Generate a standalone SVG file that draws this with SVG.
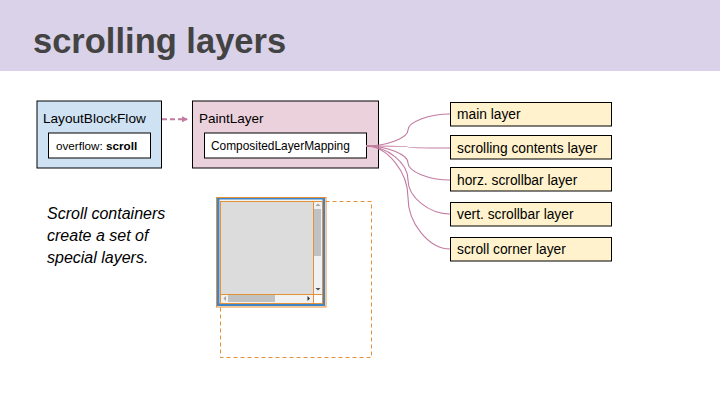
<svg xmlns="http://www.w3.org/2000/svg" width="720" height="405" viewBox="0 0 720 405">
<defs>
<style>
.t{font-family:"Liberation Sans",Arial,sans-serif;fill:#000}
.box{stroke:#000;stroke-width:1}
.conn{fill:none;stroke:#c27ba0;stroke-width:1.1}
.layer{fill:#fff2cc;stroke:#000;stroke-width:1}
.lt{font-family:"Liberation Sans",Arial,sans-serif;font-size:13.8px;fill:#000}
.or{fill:none;stroke:#e69138;stroke-width:1}
</style>
<marker id="ah" markerWidth="6" markerHeight="6" refX="5" refY="3" orient="auto" markerUnits="userSpaceOnUse">
<path d="M0,0 L6,3 L0,6 Z" fill="#c27ba0"/>
</marker>
</defs>
<rect x="0" y="0" width="720" height="405" fill="#ffffff"/>
<g id="header">
<rect x="0" y="0" width="720" height="71" fill="#d9d2e9"/>
<text x="33" y="53" font-family="'Liberation Sans',Arial,sans-serif" font-weight="bold" font-size="34.5" fill="#434343">scrolling layers</text>
</g>

<g id="layoutblockflow">
<rect class="box" x="37" y="101" width="124.5" height="67" fill="#cfe2f3"/>
<text class="t" x="43" y="123" font-size="13.6">LayoutBlockFlow</text>
<rect class="box" x="48.5" y="133" width="102" height="25" fill="#ffffff"/>
<text class="t" x="56" y="150" font-size="11.7">overflow: <tspan font-weight="bold">scroll</tspan></text>
</g>

<g id="paintlayer">
<rect class="box" x="192.5" y="101" width="186" height="67" fill="#ead1dc"/>
<text class="t" x="199" y="123" font-size="13.5">PaintLayer</text>
<rect class="box" x="204.5" y="133" width="162" height="25" fill="#ffffff"/>
<text class="t" x="211" y="150" font-size="11.9">CompositedLayerMapping</text>
</g>

<g id="main-layer">
<rect class="layer" x="450.5" y="102.5" width="161" height="23.5"/>
<text class="lt" x="457" y="119">main layer</text>
</g>
<g id="scrolling-contents-layer">
<rect class="layer" x="450.5" y="135.5" width="161" height="23.5"/>
<text class="lt" x="457" y="152.5">scrolling contents layer</text>
</g>
<g id="horz-scrollbar-layer">
<rect class="layer" x="450.5" y="167.5" width="161" height="23.5"/>
<text class="lt" x="457" y="184.5">horz. scrollbar layer</text>
</g>
<g id="vert-scrollbar-layer">
<rect class="layer" x="450.5" y="202.5" width="161" height="23.5"/>
<text class="lt" x="457" y="219">vert. scrollbar layer</text>
</g>
<g id="scroll-corner-layer">
<rect class="layer" x="450.5" y="237.5" width="161" height="23.5"/>
<text class="lt" x="457" y="254">scroll corner layer</text>
</g>

<g id="connectors">
<path d="M162,119.3 L187,119.3" fill="none" stroke="#c27ba0" stroke-width="2" stroke-dasharray="5,3" marker-end="url(#ah)"/>
<path class="conn" d="M366,146 C387,146 408,138 408,130 C408,122 429,114 450,114"/>
<path class="conn" d="M366,146 C387,146 408,146.5 408,147 C408,147.5 429,148 450,148"/>
<path class="conn" d="M366,146 C387,146 408,154.5 408,163 C408,171.5 429,180 450,180"/>
<path class="conn" d="M366,146 C387,146 408,163 408,180 C408,197 429,214 450,214"/>
<path class="conn" d="M366,146 C387,146 408,171.75 408,197.5 C408,223.25 429,249 450,249"/>
</g>

<g id="caption">
<text class="t" font-size="16" font-style="italic">
<tspan x="47" y="219">Scroll containers</tspan>
<tspan x="47" y="241">create a set of</tspan>
<tspan x="47" y="263">special layers.</tspan>
</text>
</g>

<g id="scroller">
<rect class="or" x="220.5" y="201.5" width="151" height="156" stroke-dasharray="4,3"/>
<rect x="217" y="198" width="108" height="108" fill="#3d85c6"/>
<rect x="219.5" y="199.5" width="103" height="104" fill="#f3f3f3"/>
<rect x="220" y="201" width="93.5" height="93.5" fill="#dcdcdc"/>
<rect x="313.5" y="201" width="9" height="93.5" fill="#f1f1f1"/>
<rect x="314" y="209" width="7" height="47" fill="#c1c1c1"/>
<rect x="220" y="294.5" width="93.5" height="9" fill="#f1f1f1"/>
<rect x="228" y="295" width="47" height="7" fill="#c1c1c1"/>
<rect x="313.5" y="294.5" width="9" height="9" fill="#ffffff"/>
<path d="M315.5,206 L318,203.5 L320.5,206 Z" fill="#a3a3a3"/>
<path d="M315.5,288 L318,290.5 L320.5,288 Z" fill="#505050"/>
<path d="M226,296 L223.5,298.5 L226,301 Z" fill="#a3a3a3"/>
<path d="M307.5,296 L310,298.5 L307.5,301 Z" fill="#303030"/>
<rect class="or" x="220.5" y="201.5" width="102" height="102"/>
<line class="or" x1="313.5" y1="201" x2="313.5" y2="303.5"/>
<line class="or" x1="220" y1="294.5" x2="322.5" y2="294.5"/>
<rect class="or" x="216.5" y="197.5" width="109.5" height="109.5" stroke-width="1.3"/>
</g>
</svg>
